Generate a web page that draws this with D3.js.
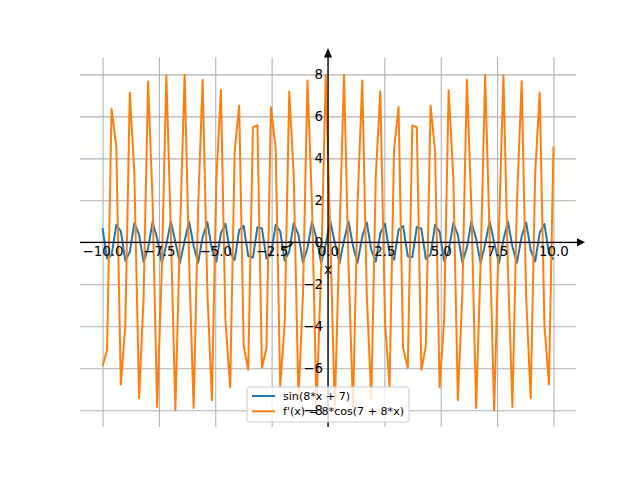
<!DOCTYPE html>
<html>
<head>
<meta charset="utf-8">
<script src="https://cdn.jsdelivr.net/npm/d3@7"></script>
<style>
  body { margin: 0; background: #fff; }
  svg { display: block; font-family: "DejaVu Sans", sans-serif; }
</style>
</head>
<body>
<svg id="chart"></svg>
<script>
const width = 640;
const height = 480;

// sample points (100 points from -10 to 10)
const xs = [
  -10.00, -9.80, -9.60, -9.39, -9.19, -8.99, -8.79, -8.59, -8.38, -8.18,
  -7.98, -7.78, -7.58, -7.37, -7.17, -6.97, -6.77, -6.57, -6.36, -6.16,
  -5.96, -5.76, -5.56, -5.35, -5.15, -4.95, -4.75, -4.55, -4.34, -4.14,
  -3.94, -3.74, -3.54, -3.33, -3.13, -2.93, -2.73, -2.53, -2.32, -2.12,
  -1.92, -1.72, -1.52, -1.31, -1.11, -0.91, -0.71, -0.51, -0.30, -0.10,
  0.10, 0.30, 0.51, 0.71, 0.91, 1.11, 1.31, 1.52, 1.72, 1.92,
  2.12, 2.32, 2.53, 2.73, 2.93, 3.13, 3.33, 3.54, 3.74, 3.94,
  4.14, 4.34, 4.55, 4.75, 4.95, 5.15, 5.35, 5.56, 5.76, 5.96,
  6.16, 6.36, 6.57, 6.77, 6.97, 7.17, 7.37, 7.58, 7.78, 7.98,
  8.18, 8.38, 8.59, 8.79, 8.99, 9.19, 9.39, 9.60, 9.80, 10.00
];

// sin(8*x + 7)
const sinVals = [
  0.677, -0.766, -0.607, 0.821, 0.533, -0.870, -0.454, 0.911,
  0.371, -0.944, -0.286, 0.970, 0.198, -0.988, -0.108, 0.998,
  0.018, -1.000, 0.073, 0.993, -0.163, -0.978, 0.252, 0.955,
  -0.339, -0.925, 0.422, 0.886, -0.503, -0.841, 0.579, 0.788,
  -0.651, -0.729, 0.717, 0.664, -0.777, -0.594, 0.831, 0.518,
  -0.878, -0.439, 0.918, 0.356, -0.950, -0.269, 0.974, 0.181,
  -0.991, -0.091, 0.999, 0.001, -0.999, 0.090, 0.991, -0.180,
  -0.975, 0.268, 0.950, -0.355, -0.918, 0.438, 0.878, -0.517,
  -0.831, 0.593, 0.778, -0.663, -0.717, 0.728, 0.651, -0.788,
  -0.580, 0.840, 0.504, -0.886, -0.423, 0.924, 0.340, -0.955,
  -0.253, 0.978, 0.164, -0.993, -0.074, 1.000, -0.016, -0.998,
  0.107, 0.988, -0.197, -0.971, 0.285, 0.945, -0.370, -0.911,
  0.453, 0.870, -0.532, -0.822
];

// f'(x) = 8*cos(7 + 8*x)
const derivVals = [
  -5.890, -5.142, 6.356, 4.565, -6.770, -3.951, 7.128, 3.305,
  -7.428, -2.631, 7.667, 1.935, -7.842, -1.224, 7.953, 0.503,
  -7.999, 0.223, 7.979, -0.946, -7.893, 1.662, 7.742, -2.364,
  -7.528, 3.047, 7.251, -3.705, -6.915, 4.332, 6.522, -4.924,
  -6.076, 5.475, 5.579, -5.981, -5.037, 6.438, 4.453, -6.841,
  -3.832, 7.189, 3.180, -7.477, -2.502, 7.704, 1.803, -7.868,
  -1.090, 7.967, 0.367, -8.000, 0.359, 7.968, -1.081, -7.869,
  1.795, 7.707, -2.494, -7.480, 3.172, 7.193, -3.825, -6.846,
  4.446, 6.443, -5.030, -5.986, 5.573, 5.481, -6.070, -4.930,
  6.517, 4.339, -6.911, -3.712, 7.248, 3.055, -7.525, -2.373,
  7.740, 1.671, -7.891, -0.955, 7.978, 0.231, -7.999, 0.494,
  7.954, -1.216, -7.844, 1.927, 7.669, -2.623, -7.431, 3.297,
  7.132, -3.944, -6.775, 4.558
];

const xTicks = [-10, -7.5, -5, -2.5, 0, 2.5, 5, 7.5, 10];
const yTicks = [-8, -6, -4, -2, 0, 2, 4, 6, 8];
const seriesNames = ["sin(8*x + 7)", "f'(x) = 8*cos(7 + 8*x)"];
const seriesColors = ["#1f77b4", "#ff7f0e"];

// little annotation arrow near the origin (data coords)
const annotFrom = [-2.04, -0.26];
const annotTo = [-1.55, 0.0];

const box = { left: 80, right: 576, top: 57.6, bottom: 427 };

const svg = d3.select("#chart")
    .attr("width", width)
    .attr("height", height);

const x = d3.scaleLinear().domain([-11, 11]).range([box.left, box.right]);
const y = d3.scaleLinear().domain([-8.8, 8.8]).range([box.bottom, box.top]);

svg.append("defs").append("clipPath")
    .attr("id", "plot-clip")
  .append("rect")
    .attr("x", box.left)
    .attr("y", box.top)
    .attr("width", box.right - box.left)
    .attr("height", box.bottom - box.top);

// grid
const grid = svg.append("g").attr("class", "grid");
grid.append("g")
    .attr("transform", `translate(0,${box.bottom})`)
    .call(d3.axisBottom(x).tickValues(xTicks).tickSize(-(box.bottom - box.top)).tickFormat(""));
grid.append("g")
    .attr("transform", `translate(${box.left},0)`)
    .call(d3.axisLeft(y).tickValues(yTicks).tickSize(-(box.right - box.left)).tickFormat(""));
grid.selectAll(".domain").remove();
grid.selectAll(".tick line")
    .attr("stroke", "#b0b0b0")
    .attr("stroke-width", 1.07);

// the two curves
const points = xs.map((d, i) => ({ x: d, s: sinVals[i], f: derivVals[i] }));
const lineSin = d3.line().x(d => x(d.x)).y(d => y(d.s));
const lineDeriv = d3.line().x(d => x(d.x)).y(d => y(d.f));

const curves = svg.append("g").attr("clip-path", "url(#plot-clip)");
curves.append("path")
    .datum(points)
    .attr("fill", "none")
    .attr("stroke", seriesColors[0])
    .attr("stroke-width", 2)
    .attr("stroke-linejoin", "round")
    .attr("d", lineSin);
curves.append("path")
    .datum(points)
    .attr("fill", "none")
    .attr("stroke", seriesColors[1])
    .attr("stroke-width", 2)
    .attr("stroke-linejoin", "round")
    .attr("d", lineDeriv);

// centred spines with arrow heads
const x0 = x(0), y0 = y(0);
svg.append("line")
    .attr("x1", box.left).attr("x2", box.right + 3)
    .attr("y1", y0).attr("y2", y0)
    .attr("stroke", "#000").attr("stroke-width", 1.3);
svg.append("line")
    .attr("x1", x0).attr("x2", x0)
    .attr("y1", box.bottom).attr("y2", box.top - 2)
    .attr("stroke", "#000").attr("stroke-width", 1.3);
svg.append("path")
    .attr("d", `M${box.right + 1},${y0 - 4}L${box.right + 9},${y0}L${box.right + 1},${y0 + 4}Z`)
    .attr("fill", "#000");
svg.append("path")
    .attr("d", `M${x0 - 4},${box.top}L${x0},${box.top - 9.5}L${x0 + 4},${box.top}Z`)
    .attr("fill", "#000");

// annotation arrow
const ax1 = x(annotFrom[0]), ay1 = y(annotFrom[1]);
const ax2 = x(annotTo[0]), ay2 = y(annotTo[1]);
const ang = Math.atan2(ay2 - ay1, ax2 - ax1);
const headLen = 5;
svg.append("path")
    .attr("d", `M${ax1},${ay1}Q${(ax1 + ax2) / 2},${ay1 + 1} ${ax2},${ay2}` +
        `M${ax2 - headLen * Math.cos(ang - 0.5)},${ay2 - headLen * Math.sin(ang - 0.5)}` +
        `L${ax2},${ay2}` +
        `L${ax2 - headLen * Math.cos(ang + 0.5)},${ay2 - headLen * Math.sin(ang + 0.5)}`)
    .attr("fill", "none")
    .attr("stroke", "#000")
    .attr("stroke-width", 1.1);

// legend (lower center)
const legend = svg.append("g");
legend.append("rect")
    .attr("x", 247).attr("y", 387)
    .attr("width", 162).attr("height", 35)
    .attr("rx", 3)
    .attr("fill", "#fff").attr("fill-opacity", 0.8)
    .attr("stroke", "#cccccc").attr("stroke-width", 1);
seriesNames.forEach((name, i) => {
    const cy = 396 + i * 15.3;
    legend.append("line")
        .attr("x1", 252).attr("x2", 275)
        .attr("y1", cy).attr("y2", cy)
        .attr("stroke", seriesColors[i]).attr("stroke-width", 2);
    legend.append("text")
        .attr("x", 283).attr("y", cy + 4)
        .attr("font-size", "11.1px")
        .attr("fill", "#000")
        .text(name);
});

// tick labels along the centred axes
const fmtX = d3.format(".1f");
const xAxis = svg.append("g")
    .attr("transform", `translate(0,${y0})`)
    .call(d3.axisBottom(x).tickValues(xTicks).tickSize(0).tickPadding(4.7).tickFormat(fmtX));
const yAxis = svg.append("g")
    .attr("transform", `translate(${x0},0)`)
    .call(d3.axisLeft(y).tickValues(yTicks).tickSize(0).tickPadding(5).tickFormat(d3.format("d")));
[xAxis, yAxis].forEach(a => {
    a.select(".domain").remove();
    a.selectAll("text")
        .attr("font-family", "DejaVu Sans")
        .attr("font-size", "13.33px")
        .attr("fill", "#000");
});

// axis label
svg.append("text")
    .attr("x", x0)
    .attr("y", 273.5)
    .attr("text-anchor", "middle")
    .attr("font-size", "13.33px")
    .text("x");
</script>
</body>
</html>
